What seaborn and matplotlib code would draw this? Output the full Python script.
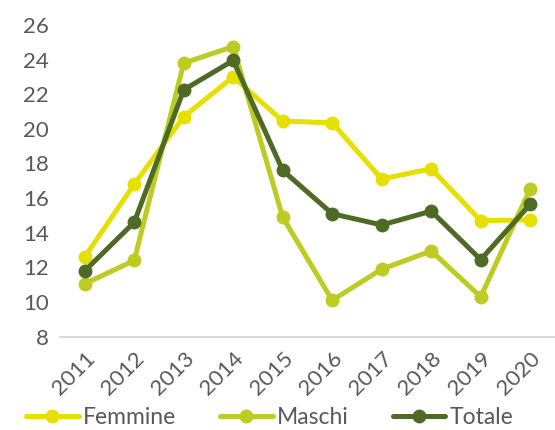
import matplotlib
matplotlib.use("Agg")
import matplotlib.pyplot as plt
import seaborn as sns
import pandas as pd

# dati
anni = [2011, 2012, 2013, 2014, 2015, 2016, 2017, 2018, 2019, 2020]
femmine = [12.6, 16.8, 20.7, 23.0, 20.45, 20.35, 17.1, 17.7, 14.7, 14.75]
maschi = [11.05, 12.4, 23.8, 24.75, 14.9, 10.1, 11.9, 12.95, 10.3, 16.55]
totale = [11.8, 14.6, 22.25, 23.95, 17.6, 15.1, 14.45, 15.25, 12.45, 15.65]

serie = ["Femmine", "Maschi", "Totale"]
colori = ["#E6DF00", "#BCCC22", "#4E6B26"]

df = pd.DataFrame({
    "anno": anni * 3,
    "valore": femmine + maschi + totale,
    "serie": [s for s in serie for _ in anni],
})

sns.set_theme(style="white")
plt.rcParams["font.family"] = ["Lato", "DejaVu Sans"]

fig = plt.figure(figsize=(5.55, 4.30), dpi=100)
ax = fig.add_axes([0.108, 0.217, 0.892, 0.725])

sns.lineplot(data=df, x="anno", y="valore", hue="serie", hue_order=serie,
             palette=colori, marker="o", markersize=10, linewidth=3.6,
             markeredgewidth=0, ax=ax)

grigio = "#595959"
ax.set_xlim(2010.5, 2020.5)
ax.set_ylim(8, 26)
ax.set_yticks(range(8, 27, 2))
ax.set_xticks(anni)
ax.set_xticklabels([str(a) for a in anni], rotation=45, ha="right",
                   rotation_mode="anchor")
ax.tick_params(axis="both", colors=grigio, labelsize=16, length=0)
ax.tick_params(axis="x", pad=8)
ax.tick_params(axis="y", pad=8)
ax.set_xlabel("")
ax.set_ylabel("")
for s in ["left", "right", "top"]:
    ax.spines[s].set_visible(False)
ax.spines["bottom"].set_color("#D9D9D9")
ax.spines["bottom"].set_linewidth(1.5)

leg = ax.legend(loc="center", bbox_to_anchor=(0.424, -0.258), ncol=3,
                frameon=False, fontsize=16.5, handlelength=2.3, handletextpad=0.2,
                columnspacing=1.9, borderaxespad=0)
for t in leg.get_texts():
    t.set_color(grigio)

fig.savefig("out.png", dpi=100)
